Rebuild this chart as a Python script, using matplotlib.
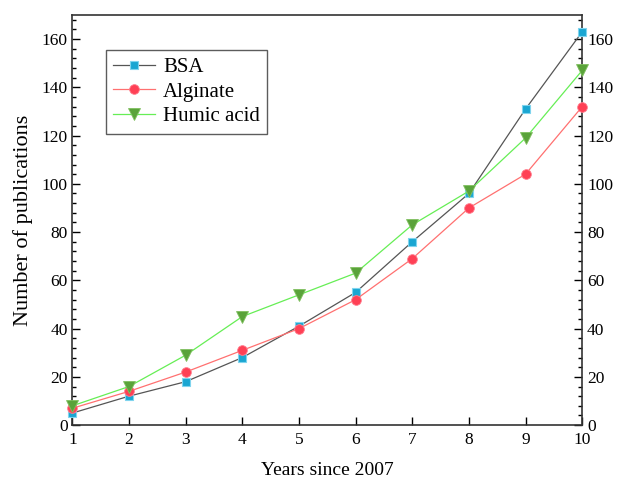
import numpy as np
import matplotlib
matplotlib.use("Agg")
import matplotlib.pyplot as plt
from matplotlib.ticker import MultipleLocator

plt.rcParams['font.family'] = ['Liberation Serif', 'DejaVu Serif']

# data
years = [1, 2, 3, 4, 5, 6, 7, 8, 9, 10]
bsa = [5, 12, 18, 28, 41, 55, 76, 96, 131, 163]
alginate = [7, 14, 22, 31, 40, 52, 69, 90, 104, 132]
humic = [8, 16, 29, 45, 54, 63, 83, 97, 119, 147]

fig = plt.figure(figsize=(6.24, 4.82), dpi=100)
ax = fig.add_axes([0.116, 0.118, 0.817, 0.851])

ax.plot(years, bsa, color='#555555', lw=0.9, marker='s', ms=6,
        mfc='#1aa6d2', mec='#7fd4ee', mew=0.8, label='BSA', clip_on=False, zorder=3)
ax.plot(years, alginate, color='#ff7070', lw=0.9, marker='o', ms=7,
        mfc='#ff4055', mec='#ff8090', mew=0.6, label='Alginate', clip_on=False, zorder=3)
ax.plot(years, humic, color='#66ee55', lw=0.9, marker='v', ms=8,
        mfc='#5aa33a', mec='#80c060', mew=0.6, label='Humic acid', clip_on=False, zorder=3)

ax.set_xlim(1, 10)
ax.set_ylim(0, 170)
ax.set_xticks(years)
ax.yaxis.set_major_locator(MultipleLocator(20))
ax.yaxis.set_minor_locator(MultipleLocator(4))
ax.tick_params(axis='both', which='major', direction='in', length=6, width=1,
               labelsize=12.5, right=True, labelright=True)
ax.tick_params(axis='y', which='minor', direction='in', length=3, width=1, right=True)
ax.tick_params(axis='x', pad=5)
for s in ax.spines.values():
    s.set_linewidth(1.2)
    s.set_color('#333333')

ax.set_xlabel('Years since 2007', fontsize=14, labelpad=10)
ax.set_ylabel('Number of publications', fontsize=16, labelpad=6)

leg = ax.legend(loc='upper left', bbox_to_anchor=(0.045, 0.94), fontsize=15,
                frameon=True, fancybox=False, edgecolor='#333333',
                handlelength=2.0, borderpad=0.35, labelspacing=0.25, handletextpad=0.4)
leg.get_frame().set_linewidth(1.0)

fig.savefig('out.png', dpi=100)
